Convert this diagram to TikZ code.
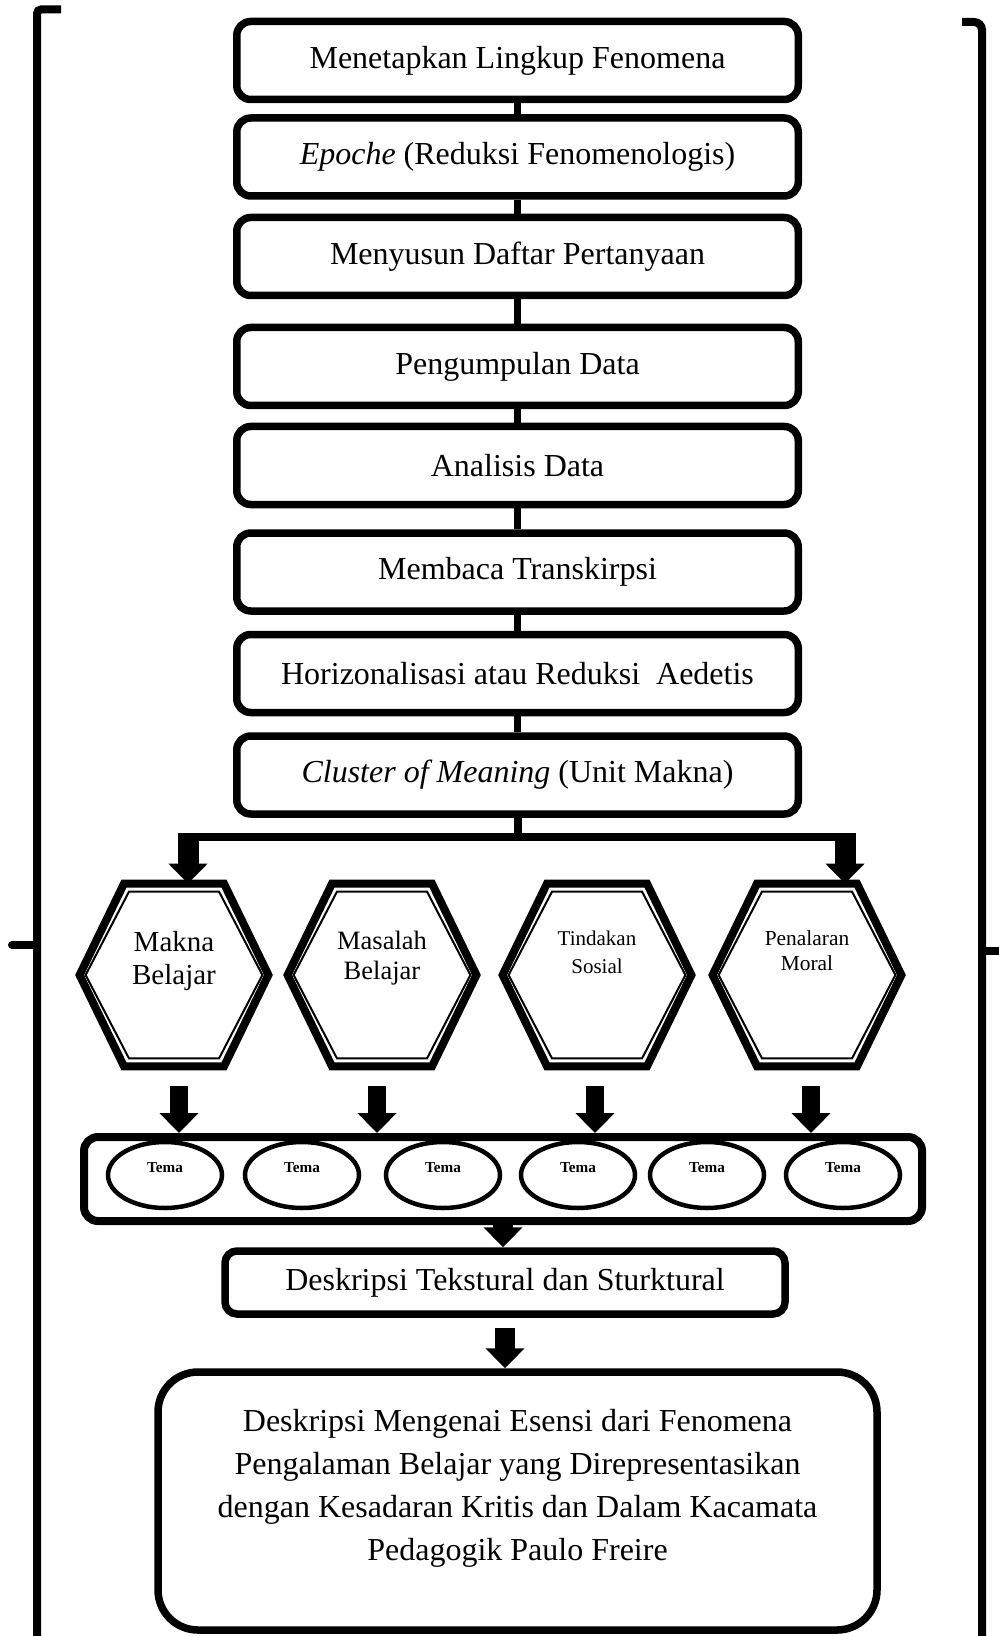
\documentclass[tikz,border=0pt]{standalone}
\usepackage{fontspec}
\setmainfont{Liberation Serif}
\usepackage{tikz}
\usetikzlibrary{arrows.meta,calc,shapes,positioning}
\tikzstyle{stage} = [rectangle, rounded corners=7pt, minimum width=280.75pt, minimum height=39pt, text centered, draw=black, line width=3.75pt, inner sep=0pt, font=\fontsize{16}{19}\selectfont]
\tikzstyle{hexa} = [rectangle, minimum width=94pt, minimum height=91pt, inner sep=0pt]
\tikzstyle{tema} = [ellipse, minimum width=57pt, minimum height=33pt, draw=black, line width=2.25pt, inner sep=0pt, font=\fontsize{7.6}{9}\selectfont\bfseries, text height=6pt, text depth=8.6pt]
\tikzstyle{themebox} = [rectangle, rounded corners=7pt, minimum width=419pt, minimum height=42pt, draw=black, line width=4pt]
\tikzstyle{desc} = [rectangle, rounded corners=6pt, minimum width=280pt, minimum height=31.5pt, draw=black, line width=3.75pt, inner sep=0pt, font=\fontsize{16}{19}\selectfont]
\tikzstyle{result} = [rectangle, rounded corners=20pt, minimum width=359.5pt, minimum height=129pt, draw=black, line width=3.75pt, inner sep=0pt, font=\fontsize{16}{21.5}\selectfont]
\tikzstyle{link} = [line width=3.5pt]
\tikzstyle{bracket} = [line width=4pt]
\tikzstyle{blockarrow} = [line width=10pt, -{Triangle[width=19pt,length=10pt]}]

\newcommand{\lift}[2]{\raisebox{#1}[\height][\depth]{\begin{tabular}{@{}c@{}}#2\end{tabular}}}
\newcommand{\hexborder}[1]{%
	\draw[line width=4pt, line join=miter] (#1.west) -- ([xshift=-25pt]#1.north) -- ([xshift=25pt]#1.north) -- (#1.east) -- ([xshift=25pt]#1.south) -- ([xshift=-25pt]#1.south) -- cycle;
	\draw[line width=1pt] ([xshift=3pt]#1.west) -- ([xshift=-22.5pt,yshift=-4pt]#1.north) -- ([xshift=22.5pt,yshift=-4pt]#1.north) -- ([xshift=-3pt]#1.east) -- ([xshift=22.5pt,yshift=4pt]#1.south) -- ([xshift=-22.5pt,yshift=4pt]#1.south) -- cycle;}

\begin{document}
\begin{tikzpicture}[x=0.5pt, y=-0.5pt]
	\useasboundingbox (0,0) rectangle (998,1636);
	
	\node[stage] (b1) at (517.5,60.5) {Menetapkan Lingkup Fenomena};
	\node[stage, below=5.5pt of b1] (b2) {\textit{Epoche} (Reduksi Fenomenologis)};
	\node[stage, below=7pt of b2] (b3) {Menyusun Daftar Pertanyaan};
	\node[stage, below=12.25pt of b3] (b4) {Pengumpulan Data};
	\node[stage, below=6.75pt of b4] (b5) {Analisis Data};
	\node[stage, below=10.5pt of b5] (b6) {Membaca Transkirpsi};
	\node[stage, below=8pt of b6] (b7) {Horizonalisasi atau Reduksi\ \ Aedetis};
	\node[stage, below=8pt of b7] (b8) {\textit{Cluster of Meaning} (Unit Makna)};
	
	\node[hexa, font=\fontsize{14.5}{16.5}\selectfont] (h1) at (174,975) {\lift{7pt}{Makna\\Belajar}};
	\node[hexa, font=\fontsize{13.25}{15}\selectfont] (h2) at (382,975) {\lift{8.5pt}{Masalah\\Belajar}};
	\node[hexa, font=\fontsize{10.5}{14}\selectfont] (h3) at (597,975) {\lift{10.5pt}{Tindakan\\Sosial}};
	\node[hexa, font=\fontsize{10.7}{12.5}\selectfont] (h4) at (807,975) {\lift{11pt}{Penalaran\\Moral}};
	\hexborder{h1}
	\hexborder{h2}
	\hexborder{h3}
	\hexborder{h4}
	
	\node[themebox] (themes) at (503,1179) {};
	\node[tema] (t1) at (165,1175) {Tema};
	\node[tema] (t2) at (302,1175) {Tema};
	\node[tema] (t3) at (443,1175) {Tema};
	\node[tema] (t4) at (578,1175) {Tema};
	\node[tema] (t5) at (707,1175) {Tema};
	\node[tema] (t6) at (843,1175) {Tema};
	
	\node[desc] (desk) at (505,1282.5) {Deskripsi Tekstural dan Sturktural};
	\node[result] (final) at (517.5,1501) {\lift{7pt}{Deskripsi Mengenai Esensi dari Fenomena\\Pengalaman Belajar yang Direpresentasikan\\dengan Kesadaran Kritis dan Dalam Kacamata\\Pedagogik Paulo Freire}};
	
	%arrow
	\draw[link] (b1) -- (b2);
	\draw[link] (b2) -- (b3);
	\draw[link] (b3) -- (b4);
	\draw[link] (b4) -- (b5);
	\draw[link] (b5) -- (b6);
	\draw[link] (b6) -- (b7);
	\draw[link] (b7) -- (b8);
	
	\coordinate (lb) at (188,837);
	\coordinate (rb) at (845,837);
	\draw[bracket] (b8.south) -- (b8.south |- lb);
	\draw[bracket] (lb) -- (rb);
	\draw[blockarrow, line width=10.5pt] ([yshift=2pt]lb) -- (lb |- h1.north);
	\draw[blockarrow, line width=10.5pt] ([yshift=2pt]rb) -- (rb |- h4.north);
	
	\draw[blockarrow, line width=9pt] ([xshift=2.5pt, yshift=-10pt]h1.south) -- ([xshift=2.5pt]h1.south |- themes.north);
	\draw[blockarrow, line width=9pt] ([xshift=-2.5pt, yshift=-10pt]h2.south) -- ([xshift=-2.5pt]h2.south |- themes.north);
	\draw[blockarrow, line width=9pt] ([xshift=-1pt, yshift=-10pt]h3.south) -- ([xshift=-1pt]h3.south |- themes.north);
	\draw[blockarrow, line width=9pt] ([xshift=2pt, yshift=-10pt]h4.south) -- ([xshift=2pt]h4.south |- themes.north);
	
	\draw[blockarrow] (themes.south) -- (themes.south |- desk.north);
	\draw[blockarrow] ([yshift=-5pt]desk.south) -- (desk.south |- final.north);
	
	% brackets
	\draw[bracket, rounded corners=2pt] (61,9.5) -- (37,9.5) -- (37,1640);
	\draw[bracket, line cap=round] (37,945) -- (12,945);
	\draw[bracket, rounded corners=4pt] (962,22) -- (982,22) -- (982,1640);
	\draw[bracket] (982,951) -- (1000,951);
	
	%
\end{tikzpicture}
\end{document}
